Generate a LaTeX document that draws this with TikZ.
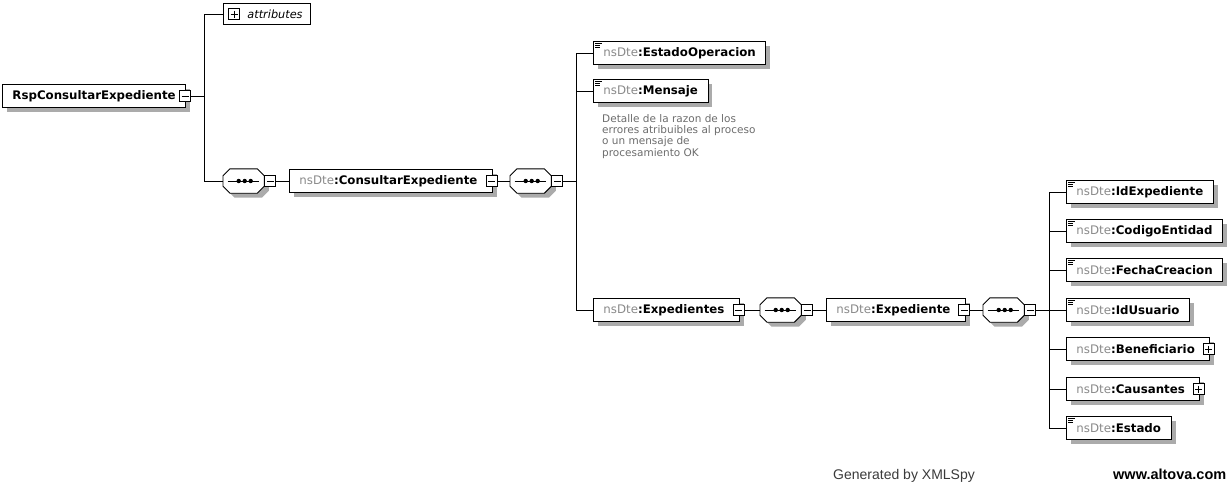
\documentclass[tikz,border=0pt]{standalone}
\usepackage{fontspec}
\setmainfont{DejaVu Sans}
\newfontfamily\footfont{Liberation Sans}
\usetikzlibrary{shadows}
\definecolor{nsgray}{HTML}{8A8A8A}
\definecolor{shadowgray}{HTML}{ABABAB}
\definecolor{notegray}{HTML}{6C6C6C}
\definecolor{footgray}{HTML}{3A3A3A}
\newcommand{\ns}[1]{{\mdseries\color{nsgray}nsDte}:#1}
\tikzstyle{conn} = [draw=black,line width=0.9pt]
\tikzstyle{shade box} = [drop shadow={shadow xshift=4.5pt,shadow yshift=-4.5pt,fill=shadowgray,opacity=1}]
\tikzstyle{elem} = [draw,fill=white,line width=0.9pt,anchor=west,shade box,minimum height=23pt,
  inner xsep=10pt,inner ysep=0pt,font=\fontsize{11.8}{14}\selectfont\bfseries]
\tikzstyle{cplx} = [elem,execute at end node={\hspace{5pt}}]
\tikzstyle{simple} = [elem,path picture={
  \draw[line width=0.7pt] ([xshift=2pt,yshift=-2pt]path picture bounding box.north west) -- ++(7pt,0pt);
  \draw[line width=0.7pt] ([xshift=2pt,yshift=-3.8pt]path picture bounding box.north west) -- ++(5pt,0pt);
  \draw[line width=0.7pt] ([xshift=2pt,yshift=-5.6pt]path picture bounding box.north west) -- ++(5pt,0pt);}]
\tikzstyle{togbox} = [draw,fill=white,line width=0.8pt,minimum size=11pt,inner sep=0pt]
\tikzstyle{minusbox} = [togbox,path picture={
  \draw[line width=0.8pt] ([xshift=2pt]path picture bounding box.west) -- ([xshift=-2pt]path picture bounding box.east);}]
\tikzstyle{plusbox} = [togbox,path picture={
  \draw[line width=0.8pt] ([xshift=2pt]path picture bounding box.west) -- ([xshift=-2pt]path picture bounding box.east);
  \draw[line width=0.8pt] ([yshift=-2pt]path picture bounding box.north) -- ([yshift=2pt]path picture bounding box.south);}]
\tikzstyle{seq} = [rectangle,anchor=west,minimum width=41pt,minimum height=24pt,inner sep=0pt]

\begin{document}
\begin{tikzpicture}[x=1pt,y=-1pt]
	\useasboundingbox (0,0) rectangle (1228,483);

	\node (root) at (2,96) [elem] {RspConsultarExpediente};
	\node (rootx) at ([xshift=-1pt]root.east) [minusbox] {};
	\node (attr) at (223,14) [draw,fill=white,line width=0.9pt,anchor=west,minimum height=21pt,inner xsep=8pt,
		inner ysep=0pt,font=\fontsize{11.3}{13}\selectfont\itshape] {\hspace{16pt}attributes};
	\node (attrx) at ([xshift=11pt]attr.west) [plusbox] {};
	\node (seqa) at (223,181) [seq] {};
	\node (consultar) at (289,181) [cplx] {\ns{ConsultarExpediente}};
	\node (consultarx) at ([xshift=-1.5pt]consultar.east) [minusbox] {};
	\node (seqb) at (510,181) [seq] {};

	\node (estadoop) at (593,53) [simple] {\ns{EstadoOperacion}};
	\node (mensaje) at (593,91) [simple] {\ns{Mensaje}};
	\node (mensajenote) at (602,114) [anchor=north west,inner sep=0pt,align=left,text=notegray,
		font=\fontsize{10.5}{11.3}\selectfont] {Detalle de la razon de los\\errores atribuibles al proceso\\o un mensaje de\\procesamiento OK};
	\node (expedientes) at (593,310) [cplx] {\ns{Expedientes}};
	\node (expedientesx) at ([xshift=-1.5pt]expedientes.east) [minusbox] {};
	\node (seqc) at (760,310) [seq] {};
	\node (expediente) at (826,310) [cplx] {\ns{Expediente}};
	\node (expedientex) at ([xshift=-1.5pt]expediente.east) [minusbox] {};
	\node (seqd) at (983,310) [seq] {};

	\node (idexp) at (1066,192) [simple] {\ns{IdExpediente}};
	\node (codigo) at (1066,231) [simple] {\ns{CodigoEntidad}};
	\node (fecha) at (1066,270) [simple] {\ns{FechaCreacion}};
	\node (idusuario) at (1066,310) [simple] {\ns{IdUsuario}};
	\node (benef) at (1066,349) [cplx] {\ns{Beneficiario}};
	\node (benefx) at ([xshift=-1.5pt]benef.east) [plusbox] {};
	\node (causantes) at (1066,389) [cplx] {\ns{Causantes}};
	\node (causantesx) at ([xshift=-1.5pt]causantes.east) [plusbox] {};
	\node (estado) at (1066,428) [simple] {\ns{Estado}};

	\foreach \s in {seqa,seqb,seqc,seqd} {
		\filldraw [fill=white,line width=0.9pt,shade box] ([xshift=7pt]\s.north west) -- ([xshift=-7pt]\s.north east)
			-- ([yshift=-7pt]\s.north east) -- ([yshift=7pt]\s.south east) -- ([xshift=-7pt]\s.south east)
			-- ([xshift=7pt]\s.south west) -- ([yshift=7pt]\s.south west) -- ([yshift=-7pt]\s.north west) -- cycle;
		\draw [line width=0.9pt] ([xshift=-16pt]\s.center) -- ([xshift=15pt]\s.center);
		\foreach \dx in {-5,1,7}
			\fill ([xshift=\dx pt]\s.center) circle (2.2pt);
	}
	\node (seqax) at (seqa.east) [minusbox,anchor=west] {};
	\node (seqbx) at (seqb.east) [minusbox,anchor=west] {};
	\node (seqcx) at (seqc.east) [minusbox,anchor=west] {};
	\node (seqdx) at (seqd.east) [minusbox,anchor=west] {};

	\coordinate (ja) at (204,96);
	\coordinate (jb) at (576,181);
	\coordinate (jc) at (1049,310);

	\draw [conn] (rootx.east) -- (ja);
	\draw [conn] (attr.west) -| (ja);
	\draw [conn] (seqa.west) -| (ja);
	\draw [conn] (seqax.east) -- (consultar.west);
	\draw [conn] (consultarx.east) -- (seqb.west);
	\draw [conn] (seqbx.east) -- (jb);
	\draw [conn] (estadoop.west) -| (jb);
	\draw [conn] (mensaje.west) -| (jb);
	\draw [conn] (expedientes.west) -| (jb);
	\draw [conn] (expedientesx.east) -- (seqc.west);
	\draw [conn] (seqcx.east) -- (expediente.west);
	\draw [conn] (expedientex.east) -- (seqd.west);
	\draw [conn] (seqdx.east) -- (jc);
	\foreach \el in {idexp,codigo,fecha,idusuario,benef,causantes,estado}
		\draw [conn] (\el.west) -| (jc);

	\node (gen) at (833,479) [anchor=base west,inner sep=0pt,text=footgray,
		font=\footfont\fontsize{14}{16}\selectfont] {Generated by XMLSpy};
	\node (www) at (1113,479) [anchor=base west,inner sep=0pt,text=black,
		font=\footfont\fontsize{14.5}{16}\selectfont\bfseries] {www.altova.com};
\end{tikzpicture}
\end{document}
